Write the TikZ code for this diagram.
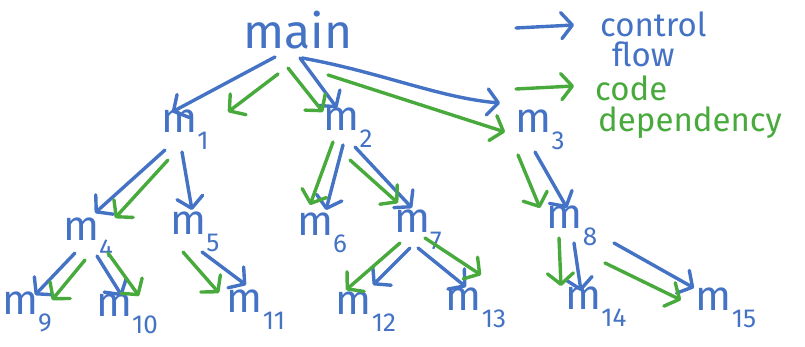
\documentclass[tikz,border=0pt]{standalone}
\usepackage{fontspec}
\setmainfont{Fira Sans}
\usepackage{tikz}
\usetikzlibrary{arrows.meta}
\definecolor{penblue}{RGB}{68,114,196}
\definecolor{pengreen}{RGB}{72,170,60}
\tikzset{
  fn/.style={inner sep=0pt,text=penblue,font=\fontsize{42}{42}\selectfont},
  legendtext/.style={inner sep=0pt,anchor=base west,font=\fontsize{33}{34}\selectfont},
  ctrl/.style={draw=penblue,line width=3.4pt,line cap=round,line join=round,
    -{Straight Barb[length=11pt,width=26pt,round]}},
  dep/.style={ctrl,draw=pengreen}
}
% function name with a lowered index
\newcommand{\fname}[1]{m\raisebox{-0.4em}{\fontsize{26}{26}\selectfont#1}}

\begin{document}
\begin{tikzpicture}[x=1pt,y=-1pt]
    \useasboundingbox (0,0) rectangle (805,347);

    % call tree
    \node [fn, font=\fontsize{48}{48}\selectfont] (main) at (298,30) {main};
    \node [fn] (m1) at (185,130) {\fname{1}};
    \node [fn] (m2) at (348,128) {\fname{2}};
    \node [fn] (m3) at (540,130) {\fname{3}};
    \node [fn] (m4) at (88,238) {\fname{4}};
    \node [fn] (m5) at (195,232) {\fname{5}};
    \node [fn] (m6) at (322,233) {\fname{6}};
    \node [fn] (m7) at (418,230) {\fname{7}};
    \node [fn] (m8) at (572,226) {\fname{8}};
    \node [fn] (m9) at (27,312) {\fname{9}};
    \node [fn] (m10) at (127,314) {\fname{10}};
    \node [fn] (m11) at (256,310) {\fname{11}};
    \node [fn] (m12) at (366,312) {\fname{12}};
    \node [fn] (m13) at (476,308) {\fname{13}};
    \node [fn] (m14) at (596,307) {\fname{14}};
    \node [fn] (m15) at (726,308) {\fname{15}};

    % legend
    \coordinate (cfa) at (516,28);
    \coordinate (cfb) at (574,25);
    \coordinate (cda) at (516,89);
    \coordinate (cdb) at (574,86);
    \draw [ctrl] (cfa) -- (cfb);
    \draw [dep] (cda) -- (cdb);
    \node [legendtext, text=penblue] (cflow) at (600,37) {control};
    \node [legendtext, text=penblue] (cflow2) at (612,67) {flow};
    \node [legendtext, text=pengreen] (cdep) at (595,101) {code};
    \node [legendtext, text=pengreen] (cdep2) at (598,132) {dependency};

    % control flow
    \draw [ctrl] ([shift={(-23,27)}]main.center) -- ([shift={(-13,-18)}]m1.center);
    \draw [ctrl] ([shift={(2,28)}]main.center) -- ([shift={(-11,-20)}]m2.center);
    \draw [ctrl] ([shift={(4,28)}]main.center) .. controls (380,72) and (440,98) .. ([shift={(-40,-27)}]m3.center);
    \draw [ctrl] ([shift={(-20,20)}]m1.center) -- ([shift={(7,-25)}]m4.center);
    \draw [ctrl] ([shift={(-3,22)}]m1.center) -- ([shift={(-3,-22)}]m5.center);
    \draw [ctrl] ([shift={(-5,17)}]m2.center) -- ([shift={(4,-23)}]m6.center);
    \draw [ctrl] ([shift={(7,19)}]m2.center) -- ([shift={(-6,-22)}]m7.center);
    \draw [ctrl] ([shift={(-5,22)}]m3.center) -- ([shift={(-5,-18)}]m8.center);
    \draw [ctrl] ([shift={(-13,15)}]m4.center) -- ([shift={(8,-17)}]m9.center);
    \draw [ctrl] ([shift={(9,18)}]m4.center) -- ([shift={(-5,-18)}]m10.center);
    \draw [ctrl] ([shift={(7,20)}]m5.center) -- ([shift={(-10,-25)}]m11.center);
    \draw [ctrl] ([shift={(-8,18)}]m7.center) -- ([shift={(7,-27)}]m12.center);
    \draw [ctrl] ([shift={(0,18)}]m7.center) -- ([shift={(-10,-21)}]m13.center);
    \draw [ctrl] ([shift={(2,17)}]m8.center) -- ([shift={(-15,-16)}]m14.center);
    \draw [ctrl] ([shift={(42,17)}]m8.center) -- ([shift={(-32,-20)}]m15.center);

    % code dependencies
    \draw [dep] ([shift={(-20,44)}]main.center) -- ([shift={(43,-18)}]m1.center);
    \draw [dep] ([shift={(-10,38)}]main.center) -- ([shift={(-25,-16)}]m2.center);
    \draw [dep] ([shift={(30,45)}]main.center) -- ([shift={(-35,2)}]m3.center);
    \draw [dep] ([shift={(-17,30)}]m1.center) -- ([shift={(27,-20)}]m4.center);
    \draw [dep] ([shift={(-15,14)}]m2.center) -- ([shift={(-12,-28)}]m6.center);
    \draw [dep] ([shift={(2,32)}]m2.center) -- ([shift={(-20,-27)}]m7.center);
    \draw [dep] ([shift={(-22,25)}]m3.center) -- ([shift={(-32,-18)}]m8.center);
    \draw [dep] ([shift={(-3,22)}]m4.center) -- ([shift={(25,-12)}]m9.center);
    \draw [dep] ([shift={(20,15)}]m4.center) -- ([shift={(12,-18)}]m10.center);
    \draw [dep] ([shift={(-12,20)}]m5.center) -- ([shift={(-37,-17)}]m11.center);
    \draw [dep] ([shift={(-18,13)}]m7.center) -- ([shift={(-20,-22)}]m12.center);
    \draw [dep] ([shift={(7,8)}]m7.center) -- ([shift={(5,-33)}]m13.center);
    \draw [dep] ([shift={(-13,12)}]m8.center) -- ([shift={(-35,-21)}]m14.center);
    \draw [dep] ([shift={(33,37)}]m8.center) -- ([shift={(-45,-8)}]m15.center);
\end{tikzpicture}
\end{document}
